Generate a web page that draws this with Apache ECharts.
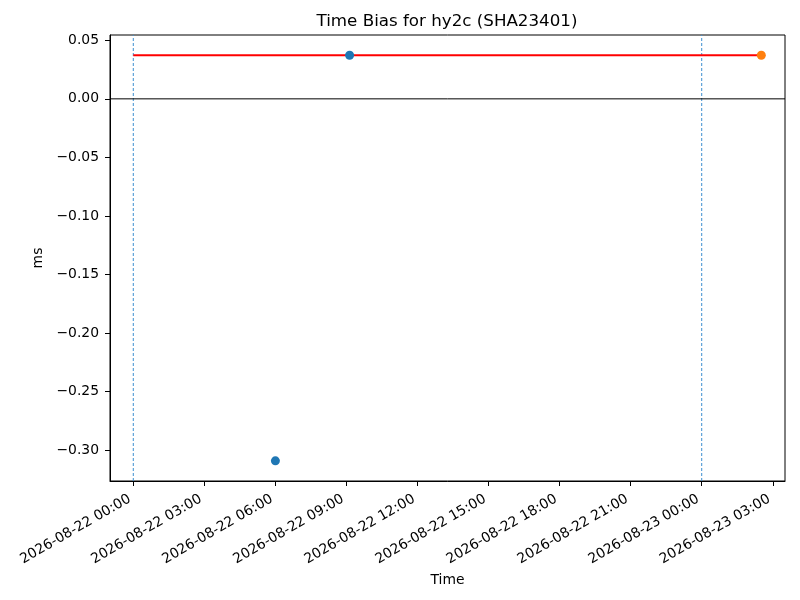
<!DOCTYPE html>
<html><head><meta charset="utf-8">
<script src="https://cdn.jsdelivr.net/npm/echarts@6/dist/echarts.min.js"></script>
<style>html,body{margin:0;padding:0;background:#fff}#c{width:800px;height:600px}</style>
</head><body><div id="c"></div>
<script>
const ORIGIN = '2026-08-22 00:00';
const titleText = 'Time Bias for hy2c (SHA23401)';
const blueTimes = ['2026-08-22 06:00', '2026-08-22 09:08'];
const blueValues = [-0.309, 0.0372];
const orangeTimes = ['2026-08-23 02:31'];
const orangeValues = [0.0372];
const refLineTimes = ['2026-08-22 00:00', '2026-08-23 02:31'];
const refLineValues = [0.0372, 0.0372];
const dayBoundaryTimes = ['2026-08-22 00:00', '2026-08-23 00:00'];
const xTickLabels = ['2026-08-22 00:00','2026-08-22 03:00','2026-08-22 06:00','2026-08-22 09:00','2026-08-22 12:00','2026-08-22 15:00','2026-08-22 18:00','2026-08-22 21:00','2026-08-23 00:00','2026-08-23 03:00'];
const yTickValues = [-0.30, -0.25, -0.20, -0.15, -0.10, -0.05, 0.00, 0.05];
const xRange = ['2026-08-21 23:01', '2026-08-23 03:31'];
const yRange = [-0.3262, 0.0545];

function ms(s) { return Date.parse(s.replace(' ', 'T') + ':00Z'); }
const base = ms(ORIGIN);
function toH(s) { return (ms(s) - base) / 3600000; }
function fmtX(v) {
  return new Date(base + Math.round(v * 3600000)).toISOString().slice(0, 16).replace('T', ' ');
}
function fmtY(v) {
  const s = Math.abs(v).toFixed(2);
  return (v < -1e-9 ? '\u2212' : '') + s;
}
const xTicks = xTickLabels.map(toH);
const font = 'DejaVu Sans';
const fs = 13.9;

const boundarySeries = dayBoundaryTimes.map(t => ({
  type: 'line', z: 1, silent: true, showSymbol: false, symbol: 'none',
  data: [[toH(t), yRange[0]], [toH(t), yRange[1]]],
  lineStyle: {color: '#3d8fd0', width: 1, type: [3, 2]},
  itemStyle: {color: '#3d8fd0'},
  emphasis: {disabled: true}
}));
const zeroSeries = {
  type: 'line', z: 1, silent: true, showSymbol: false, symbol: 'none',
  data: [[toH(xRange[0]), 0], [toH(xRange[1]), 0]],
  lineStyle: {color: '#000', width: 1},
  itemStyle: {color: '#000'},
  emphasis: {disabled: true}
};

const chart = echarts.init(document.getElementById('c'), null, {renderer: 'canvas'});
chart.setOption({
  animation: false,
  backgroundColor: '#fff',
  textStyle: {fontFamily: font},
  graphic: [{
    type: 'text', x: 447, y: 22, silent: true,
    style: {text: titleText, align: 'center', verticalAlign: 'middle',
      font: 'normal 16.7px "DejaVu Sans"', fill: '#000'}
  }],
  grid: {left: 110, right: 15, top: 35, bottom: 119, show: true, borderColor: '#000', borderWidth: 1, backgroundColor: 'transparent'},
  xAxis: {
    type: 'value', min: toH(xRange[0]), max: toH(xRange[1]),
    name: 'Time', nameLocation: 'middle', nameGap: 89,
    nameTextStyle: {fontFamily: font, fontSize: fs, color: '#000'},
    axisLine: {show: true, onZero: false, lineStyle: {color: '#000', width: 1}},
    axisTick: {show: true, inside: false, length: 5, customValues: xTicks, lineStyle: {color: '#000'}},
    axisLabel: {show: true, rotate: 30, customValues: xTicks, formatter: fmtX, margin: 23,
      align: 'right', verticalAlign: 'bottom',
      fontFamily: font, fontSize: fs, color: '#000'},
    splitLine: {show: false}
  },
  yAxis: {
    type: 'value', min: yRange[0], max: yRange[1],
    name: 'ms', nameLocation: 'middle', nameGap: 60, nameRotate: 90,
    nameTextStyle: {fontFamily: font, fontSize: fs, color: '#000'},
    axisLine: {show: true, onZero: false, lineStyle: {color: '#000', width: 1}},
    axisTick: {show: true, inside: false, length: 5, customValues: yTickValues, lineStyle: {color: '#000'}},
    axisLabel: {show: true, customValues: yTickValues, formatter: fmtY, margin: 11,
      fontFamily: font, fontSize: fs, color: '#000'},
    splitLine: {show: false}
  },
  series: boundarySeries.concat([zeroSeries,
    {
      type: 'line', z: 2, showSymbol: false, symbol: 'none', silent: true,
      data: refLineTimes.map((t, i) => [toH(t), refLineValues[i]]),
      lineStyle: {color: '#ff0000', width: 2}, itemStyle: {color: '#ff0000'}
    },
    {
      type: 'scatter', z: 3, symbolSize: 9,
      data: blueTimes.map((t, i) => [toH(t), blueValues[i]]),
      itemStyle: {color: '#1f77b4', opacity: 1}
    },
    {
      type: 'scatter', z: 3, symbolSize: 9,
      data: orangeTimes.map((t, i) => [toH(t), orangeValues[i]]),
      itemStyle: {color: '#ff7f0e', opacity: 1}
    }
  ])
});
</script>
</body></html>
